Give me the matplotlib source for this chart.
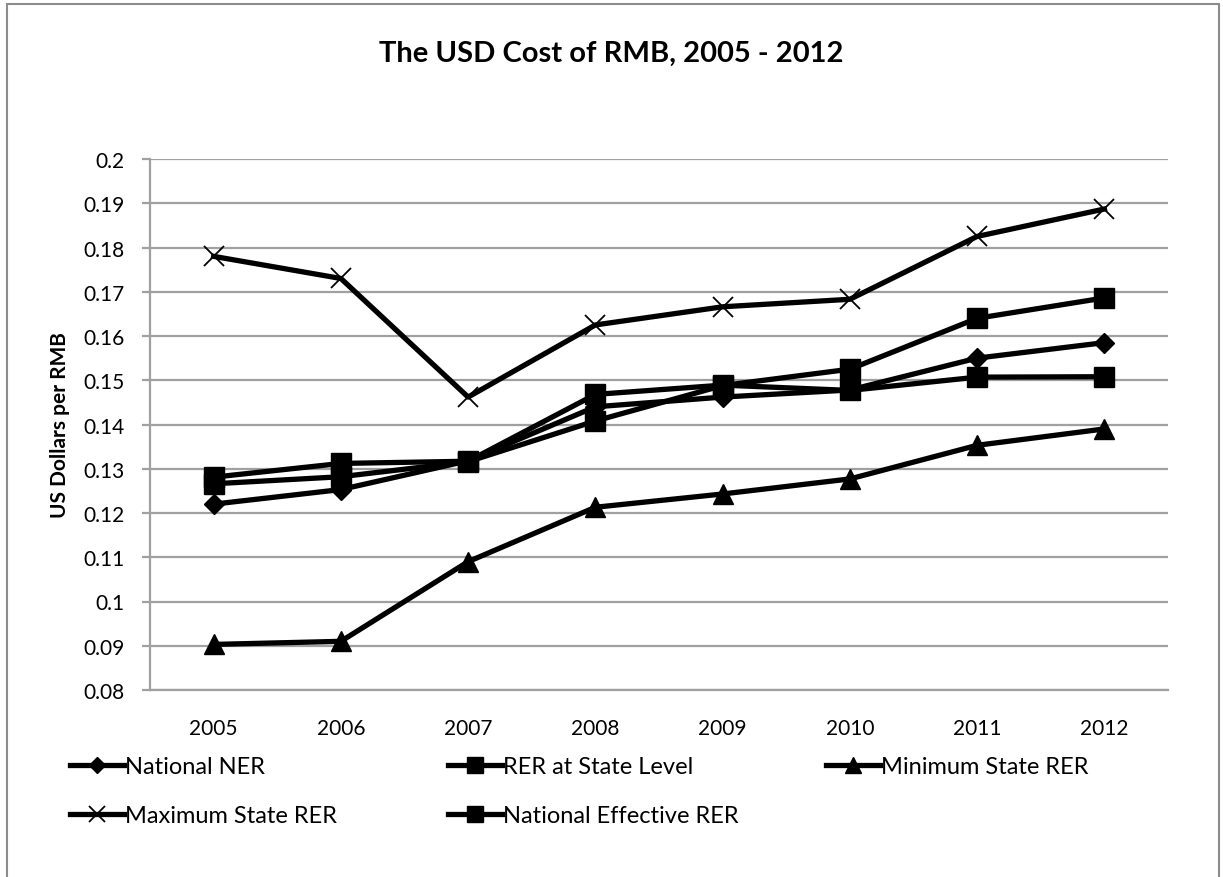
import matplotlib
matplotlib.use("Agg")
import matplotlib.pyplot as plt
from matplotlib.patches import Rectangle
from matplotlib.lines import Line2D

years = ["2005", "2006", "2007", "2008", "2009", "2010", "2011", "2012"]
national_ner = [0.1220, 0.1253, 0.1318, 0.1440, 0.1462, 0.1478, 0.1550, 0.1585]
rer_state = [0.1266, 0.1282, 0.1316, 0.1408, 0.1488, 0.1525, 0.1640, 0.1686]
min_state = [0.0903, 0.0910, 0.1090, 0.1213, 0.1243, 0.1277, 0.1353, 0.1390]
max_state = [0.1780, 0.1730, 0.1462, 0.1625, 0.1666, 0.1683, 0.1825, 0.1887]
nat_eff = [0.1281, 0.1312, 0.1317, 0.1468, 0.1489, 0.1477, 0.1507, 0.1508]

plt.rcParams['font.family'] = ['Lato', 'DejaVu Sans']

fig = plt.figure(figsize=(12.23, 8.78), dpi=100)
W, H = 1223, 878
ax = fig.add_axes([150 / W, 1 - 691 / H, (1168 - 150) / W, (691 - 160) / H])

x = list(range(len(years)))
lw = 3.8
series = [
    ('National NER', national_ner, 'D', 10, 1.0, 8),
    ('RER at State Level', rer_state, 's', 15, 1.0, 11),
    ('Minimum State RER', min_state, '^', 15, 1.0, 12),
    ('Maximum State RER', max_state, 'x', 14, 1.3, 11),
    ('National Effective RER', nat_eff, 's', 15, 1.0, 11),
]
proxies = {}
for name, vals, mk, ms, mew, lms in series:
    ax.plot(x, vals, color='black', lw=lw, marker=mk, ms=ms, mew=mew, label=name, zorder=3)
    proxies[name] = Line2D([], [], color='black', lw=lw, marker=mk, ms=lms, mew=mew)

ax.set_xlim(-0.5, len(years) - 0.5)
ax.set_ylim(0.08, 0.2)
yt = [0.08, 0.09, 0.1, 0.11, 0.12, 0.13, 0.14, 0.15, 0.16, 0.17, 0.18, 0.19, 0.2]
ax.set_yticks(yt)
ax.set_yticklabels([f"{v:g}" for v in yt])
ax.set_xticks(x)
ax.set_xticklabels(years)
ax.yaxis.grid(True, color='#a0a0a0', lw=1.6)
ax.set_axisbelow(True)
for s in ['top', 'right']:
    ax.spines[s].set_visible(False)
for s in ['left', 'bottom']:
    ax.spines[s].set_color('#a0a0a0')
    ax.spines[s].set_linewidth(1.6)
ax.tick_params(axis='y', length=6, color='#a0a0a0', width=1.6, labelsize=15, pad=12)
ax.tick_params(axis='x', length=0, labelsize=15, pad=20)

ax.set_ylabel('US Dollars per RMB', fontsize=15, fontweight='bold', labelpad=10)
fig.text(0.5, 1 - 54 / H, 'The USD Cost of RMB, 2005 - 2012', ha='center', va='center',
         fontsize=21, fontweight='bold')

cols = [
    (70, ['National NER', 'Maximum State RER']),
    (448, ['RER at State Level', 'National Effective RER']),
    (826, ['Minimum State RER']),
]
for cx, names in cols:
    fig.legend([proxies[n] for n in names], names, loc='upper left',
               bbox_to_anchor=(cx / W, 1 - 757 / H), frameon=False, fontsize=17,
               handlelength=2.3, handletextpad=0.05, labelspacing=1.2,
               borderpad=0, borderaxespad=0)

fig.patches.append(Rectangle((7 / W, -0.01), (1219 - 7) / W, 1 - 5 / H + 0.01,
                             transform=fig.transFigure, fill=False,
                             edgecolor='#8c8c8c', lw=1.5))

fig.savefig('out.png', dpi=100)
